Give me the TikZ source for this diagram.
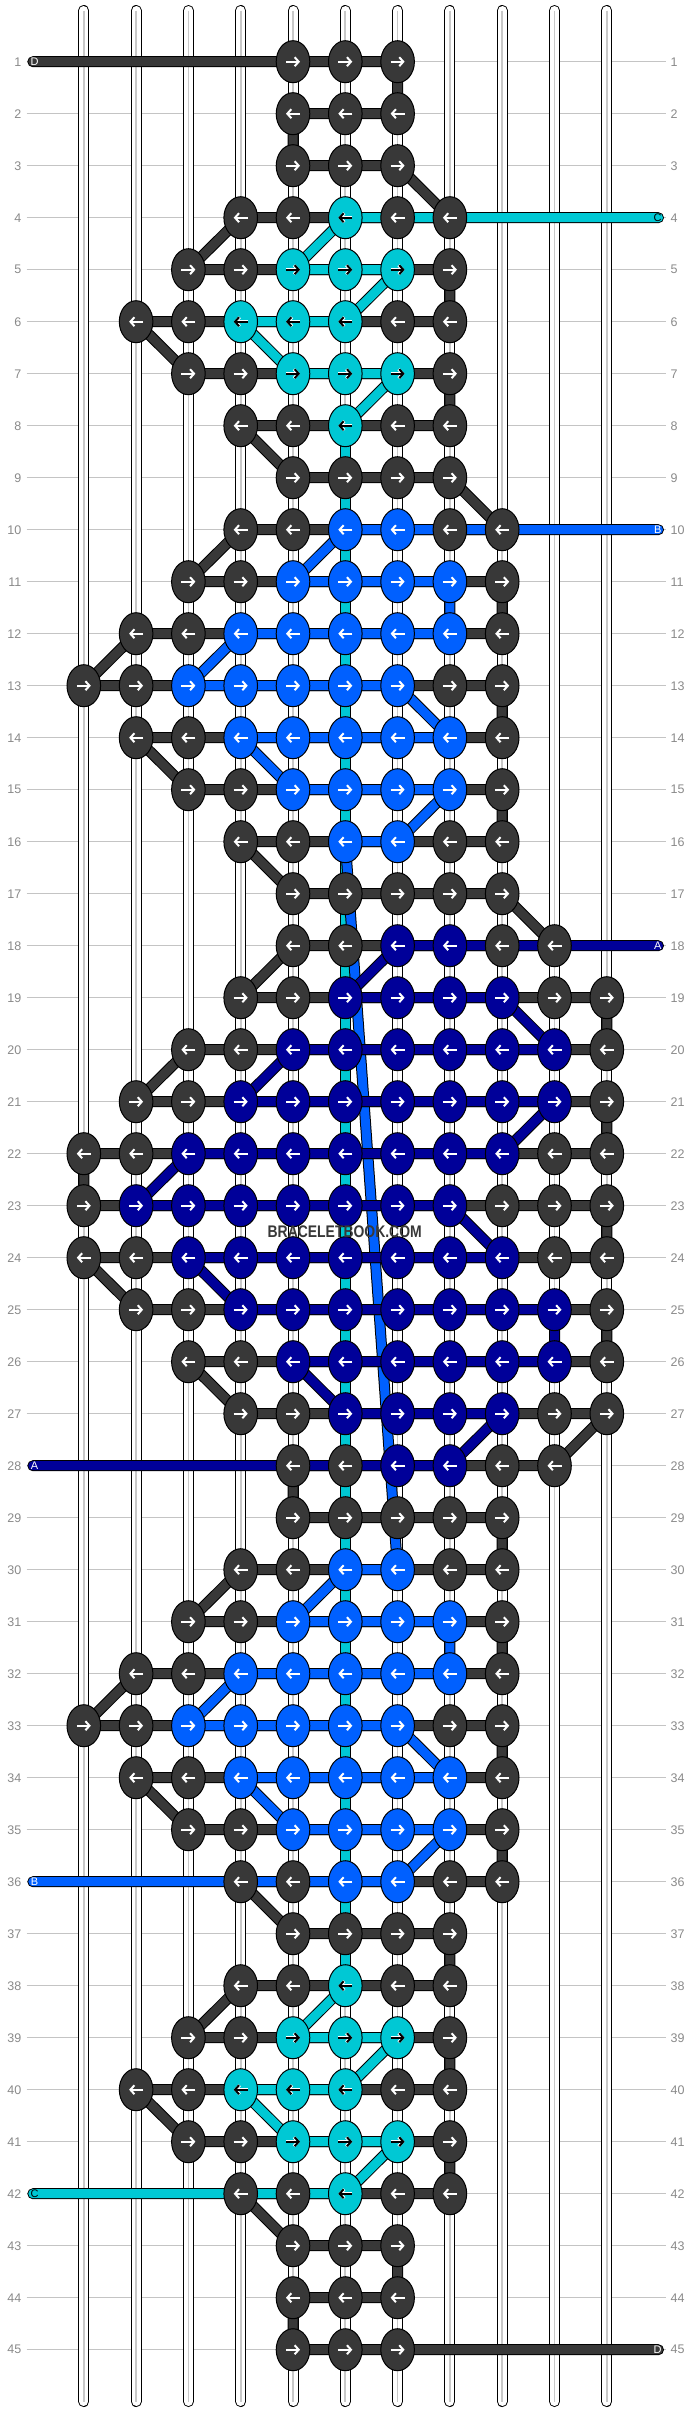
\documentclass[tikz,border=0pt]{standalone}
\usepackage{fontspec}
\setmainfont{Liberation Sans}
\usetikzlibrary{arrows.meta,shapes.geometric}
\definecolor{kdark}{HTML}{383838}
\definecolor{kcyan}{HTML}{00C8D4}
\definecolor{kblue}{HTML}{0060FF}
\definecolor{knavy}{HTML}{000099}
\definecolor{rowgray}{HTML}{C4C4C4}
\definecolor{numgray}{HTML}{8A8A8A}
\definecolor{strgray}{HTML}{C8C8C8}
\tikzset{%
	knot/.style    = {draw=black, line width=1pt, ellipse, inner sep=0pt, minimum width=33.6pt, minimum height=42pt},
	thread/.style  = {draw=black, line width=1pt, double=#1, double distance=9pt, line cap=round, line join=round},
	basestr/.style = {draw=black, line width=1pt, double=white, double distance=9pt, line cap=round},
	arrowhd/.style = {line width=2pt, -{Straight Barb[length=4pt,width=9pt]}},
	rownum/.style  = {text=numgray, font=\fontsize{12.5}{14}\selectfont, inner sep=0pt},
	endlbl/.style  = {font=\fontsize{11}{12}\selectfont, inner sep=0pt},
}
\begin{document}
\begin{tikzpicture}[x=1pt,y=-1pt]
	\useasboundingbox (0,0) rectangle (688,2412);
	\fill[white] (0,0) rectangle (688,2412);
	
	% grid of knot places, row lines and row numbers
	\foreach \i in {1,...,45} {
		\pgfmathsetmacro\yy{61.7+52*(\i-1)}
		\coordinate (eL\i) at (32.8,\yy);
		\coordinate (eR\i) at (658.5,\yy);
		\foreach \j in {1,...,11} \coordinate (p\i-\j) at ({83.8+52.3*(\j-1)},\yy);
		\node[rownum, anchor=east] (nl\i) at (21.5,\yy) {\i};
		\node[rownum, anchor=west] (nr\i) at (670.5,\yy) {\i};
		\draw[rowgray, line width=1.2pt] ([xshift=5pt]nl\i.east) -- ([xshift=-4.5pt]nr\i.west);
	}
	
	% base strings
	\foreach \j in {1,...,11} {
		\path (p1-\j) ++(0,-51.2) coordinate (st\j) (p45-\j) ++(0,51.8) coordinate (sb\j);
		\draw[basestr] (st\j) -- (sb\j);
		\draw[strgray, line width=1.7pt] (st\j) -- (sb\j);
	}
	
	% hidden runs
	\draw[thread=kcyan] (p8-6) -- (p38-6);
	\draw[thread=kblue] (p16-6) -- (p30-7);
	
	% thread D
	\draw[thread=kdark] (eL1) \foreach \i/\a/\b in {1/5/7, 2/7/5, 3/5/7, 4/8/4, 5/3/8, 6/8/2, 7/3/8, 8/8/4, 9/5/8,
		10/9/4, 11/3/9, 12/9/2, 13/1/9, 14/9/2, 15/3/9, 16/9/4, 17/5/9, 18/10/5, 19/4/11, 20/11/3,
		21/2/11, 22/11/1, 23/1/11, 24/11/1, 25/2/11, 26/11/3, 27/4/11, 28/10/5, 29/5/9, 30/9/4,
		31/3/9, 32/9/2, 33/1/9, 34/9/2, 35/3/9, 36/9/4, 37/5/8, 38/8/4, 39/3/8, 40/8/2,
		41/3/8, 42/8/4, 43/5/7, 44/7/5, 45/5/7} { -- (p\i-\a) -- (p\i-\b) } -- (eR45);
	
	% thread C
	\draw[thread=kcyan] (eR4) -- (p4-6) -- (p5-5) -- (p5-7) -- (p6-6) -- (p6-4) -- (p7-5) -- (p7-7) -- (p8-6);
	\draw[thread=kcyan] (p38-6) -- (p39-5) -- (p39-7) -- (p40-6) -- (p40-4) -- (p41-5) -- (p41-7) -- (p42-6) -- (eL42);
	
	% thread B
	\draw[thread=kblue] (eR10) -- (p10-6) -- (p11-5) -- (p11-8) -- (p12-8) -- (p12-4) -- (p13-3) -- (p13-7)
		-- (p14-8) -- (p14-4) -- (p15-5) -- (p15-8) -- (p16-7) -- (p16-6);
	\draw[thread=kblue] (p30-7) -- (p30-6) -- (p31-5) -- (p31-8) -- (p32-8) -- (p32-4) -- (p33-3) -- (p33-7)
		-- (p34-8) -- (p34-4) -- (p35-5) -- (p35-8) -- (p36-7) -- (eL36);
	
	% thread A
	\draw[thread=knavy] (eR18) -- (p18-7) -- (p19-6) -- (p19-9) -- (p20-10) -- (p20-5) -- (p21-4) -- (p21-10)
		-- (p22-9) -- (p22-3) -- (p23-2) -- (p23-8) -- (p24-9) -- (p24-3) -- (p25-4) -- (p25-10)
		-- (p26-10) -- (p26-5) -- (p27-6) -- (p27-9) -- (p28-8) -- (eL28);
	
	% thread ends
	\node[endlbl, text=white] (lD1) at ([xshift=1.7pt]eL1) {D};
	\node[endlbl, text=black] (lC4) at ([xshift=-0.8pt]eR4) {C};
	\node[endlbl, text=white] (lB10) at ([xshift=-0.8pt]eR10) {B};
	\node[endlbl, text=white] (lA18) at ([xshift=-0.8pt]eR18) {A};
	\node[endlbl, text=white] (lA28) at ([xshift=1.7pt]eL28) {A};
	\node[endlbl, text=white] (lB36) at ([xshift=1.7pt]eL36) {B};
	\node[endlbl, text=black] (lC42) at ([xshift=1.7pt]eL42) {C};
	\node[endlbl, text=white] (lD45) at ([xshift=-0.8pt]eR45) {D};
	
	% knots: row/first/last/coloured from/coloured to/colour
	\foreach \i/\lo/\hi/\ca/\cb/\cc in {1/5/7/0/0/kdark, 2/5/7/0/0/kdark, 3/5/7/0/0/kdark, 4/4/8/6/6/kcyan,
		5/3/8/5/7/kcyan, 6/2/8/4/6/kcyan, 7/3/8/5/7/kcyan, 8/4/8/6/6/kcyan, 9/5/8/0/0/kdark,
		10/4/9/6/7/kblue, 11/3/9/5/8/kblue, 12/2/9/4/8/kblue, 13/1/9/3/7/kblue, 14/2/9/4/8/kblue,
		15/3/9/5/8/kblue, 16/4/9/6/7/kblue, 17/5/9/0/0/kdark, 18/5/10/7/8/knavy, 19/4/11/6/9/knavy,
		20/3/11/5/10/knavy, 21/2/11/4/10/knavy, 22/1/11/3/9/knavy, 23/1/11/2/8/knavy, 24/1/11/3/9/knavy,
		25/2/11/4/10/knavy, 26/3/11/5/10/knavy, 27/4/11/6/9/knavy, 28/5/10/7/8/knavy, 29/5/9/0/0/kdark,
		30/4/9/6/7/kblue, 31/3/9/5/8/kblue, 32/2/9/4/8/kblue, 33/1/9/3/7/kblue, 34/2/9/4/8/kblue,
		35/3/9/5/8/kblue, 36/4/9/6/7/kblue, 37/5/8/0/0/kdark, 38/4/8/6/6/kcyan, 39/3/8/5/7/kcyan,
		40/2/8/4/6/kcyan, 41/3/8/5/7/kcyan, 42/4/8/6/6/kcyan, 43/5/7/0/0/kdark, 44/5/7/0/0/kdark,
		45/5/7/0/0/kdark} {
		\foreach \j in {\lo,...,\hi} {
			\def\kc{kdark}
			\ifnum\j<\ca\relax\else\ifnum\j>\cb\relax\else\edef\kc{\cc}\fi\fi
			\def\ac{white}\def\tmpc{kcyan}
			\ifodd\i\def\xa{-7}\def\xb{7}\else\def\xa{7}\def\xb{-7}\fi
			\node[knot, fill=\kc] (k\i-\j) at (p\i-\j) {};
			\ifx\kc\tmpc
				\def\ac{black}
				\draw[arrowhd, draw=white, line width=3pt] ([xshift=\xa pt]k\i-\j.center) -- ([xshift=\xb pt]k\i-\j.center);
			\fi
			\draw[arrowhd, draw=\ac] ([xshift=\xa pt]k\i-\j.center) -- ([xshift=\xb pt]k\i-\j.center);
		}
	}
	
	\node[font=\bfseries\fontsize{16.8}{18}\selectfont, text=kdark, inner sep=0pt] (wm) at (344.7,1231.7) {\scalebox{0.83}[1]{BRACELETBOOK.COM}};
\end{tikzpicture}
\end{document}
